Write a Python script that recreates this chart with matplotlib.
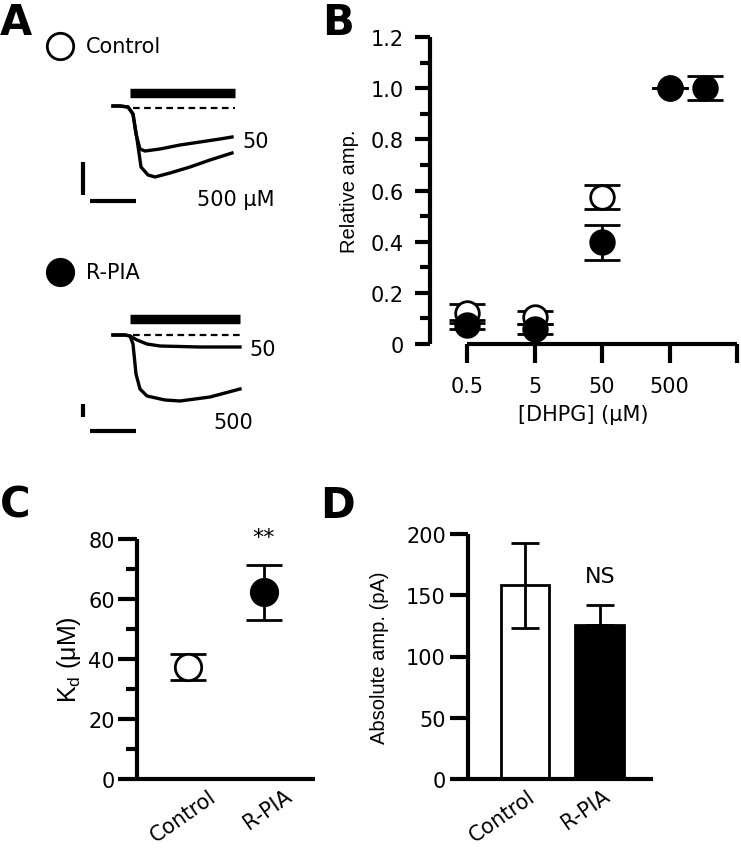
import matplotlib.pyplot as plt
import numpy as np
from matplotlib.transforms import ScaledTranslation

# ---- data ----
# panel A traces (schematic, pixel units)
tr_t_ctrl = [113, 120, 128, 133, 136, 140, 145, 160, 180, 200, 220, 232]
tr_ctrl_50 = [107, 107, 108, 115, 135, 150, 152, 150, 146, 143, 140, 138]
tr_t_ctrl5 = [113, 120, 128, 133, 137, 141, 148, 155, 170, 190, 210, 232]
tr_ctrl_500 = [107, 107, 108, 115, 140, 168, 176, 178, 174, 168, 161, 154]
tr_t_rpia = [113, 125, 130, 137, 147, 160, 200, 240]
tr_rpia_50 = [336, 336, 337, 341, 345, 347, 348, 348]
tr_t_rpia5 = [113, 125, 130, 133, 136, 140, 147, 165, 180, 210, 240]
tr_rpia_500 = [336, 336, 337, 345, 375, 390, 397, 401, 402, 398, 390]

# panel B
conc = [0.5, 5, 50, 500]
ctrl_rel = [0.12, 0.105, 0.575, 1.0]
ctrl_rel_err = [0.037, 0.025, 0.047, 0.0]
rpia_rel = [0.075, 0.06, 0.397, 1.0]
rpia_rel_err = [0.018, 0.02, 0.067, 0.0]
extra_conc = [1650]
extra_rel = [1.0]
extra_err = [0.046]
b_ticks = [0.5, 5, 50, 500]
b_ticklabels = ['0.5', '5', '50', '500']

# panel C
groups = ['Control', 'R-PIA']
kd = [37.3, 62.3]
kd_err = [4.3, 9.2]

# panel D
amp = [158, 126]
amp_err_lo = [34.5, 0]
amp_err_hi = [34.5, 16.3]

W, H = 741, 853
fig = plt.figure(figsize=(W / 100, H / 100), dpi=100)
plt.rcParams['font.size'] = 15
VFONT = 'Liberation Sans'


def px_axes(l, t, r, b):
    return fig.add_axes([l / W, 1 - b / H, (r - l) / W, (b - t) / H])


# ---------- panel A ----------
axA = px_axes(0, 0, 310, 445)
axA.set_xlim(0, 310)
axA.set_ylim(445, 0)
axA.axis('off')
for y0, face, lab in [(47, 'white', 'Control'), (273, 'black', 'R-PIA')]:
    axA.plot([60], [y0], 'o', ms=19, mfc=face, mec='black', mew=2)
    axA.text(86, y0, lab, va='center', ha='left', fontsize=15)
axA.plot([130, 235], [94, 94], color='black', lw=6.8, solid_capstyle='butt')
axA.plot([130, 240], [320, 320], color='black', lw=6.8, solid_capstyle='butt')
axA.plot([133, 235], [109, 109], color='black', lw=1.6, ls=(0, (3, 2)))
axA.plot([133, 240], [336, 336], color='black', lw=1.6, ls=(0, (3, 2)))
axA.plot(tr_t_ctrl, tr_ctrl_50, color='black', lw=2.4)
axA.plot(tr_t_ctrl5, tr_ctrl_500, color='black', lw=2.4)
axA.plot(tr_t_rpia, tr_rpia_50, color='black', lw=2.4)
axA.plot(tr_t_rpia5, tr_rpia_500, color='black', lw=2.4)
axA.text(256, 142, '50', ha='center', va='center', fontsize=15)
axA.text(236, 200, '500 μM', ha='center', va='center', fontsize=15)
axA.text(263, 350, '50', ha='center', va='center', fontsize=15)
axA.text(233, 423, '500', ha='center', va='center', fontsize=15)
# scale bars
axA.plot([83, 83], [163, 196], color='black', lw=3, solid_capstyle='butt')
axA.plot([90, 136], [202, 202], color='black', lw=3, solid_capstyle='butt')
axA.plot([83, 83], [405, 418], color='black', lw=3, solid_capstyle='butt')
axA.plot([90, 136], [432, 432], color='black', lw=3, solid_capstyle='butt')


def style_axes(ax):
    for s in ['top', 'right']:
        ax.spines[s].set_visible(False)
    for s in ['left', 'bottom']:
        ax.spines[s].set_linewidth(3)
        ax.spines[s].set_capstyle('butt')


# ---------- panel B ----------
axB = px_axes(430, 38, 737, 345)
style_axes(axB)
axB.set_xscale('log')
axB.set_xlim(10 ** (-0.301 - 37 / 67.3), 5000)
axB.set_ylim(0, 1.2)
axB.spines['bottom'].set_bounds(0.5, 5000)
axB.set_xticks(b_ticks + [5000])
axB.set_xticklabels(b_ticklabels + [''])
axB.xaxis.set_minor_locator(plt.NullLocator())
axB.set_yticks(np.arange(0, 1.21, 0.2))
axB.set_yticklabels(['0', '0.2', '0.4', '0.6', '0.8', '1.0', '1.2'])
axB.set_yticks(np.arange(0.1, 1.2, 0.2), minor=True)
axB.tick_params(axis='y', which='major', length=11, width=3, pad=8, labelsize=15)
axB.tick_params(axis='y', which='minor', length=7, width=3)
axB.tick_params(axis='x', which='major', length=14, width=3, pad=9, labelsize=15)
eb = dict(fmt='o', ms=17, ecolor='black', elinewidth=2, capsize=13, capthick=2,
          mec='black', mew=2, clip_on=False, zorder=3)
axB.errorbar(conc, ctrl_rel, yerr=ctrl_rel_err, mfc='white', **eb)
axB.errorbar(conc, rpia_rel, yerr=rpia_rel_err, mfc='black', **eb)
axB.errorbar(extra_conc, extra_rel, yerr=extra_err, mfc='black', **eb)
axB.set_xlabel('[DHPG] (μM)', fontsize=15, labelpad=6)
axB.set_ylabel('Relative amp.', fontsize=14.5, family=VFONT, labelpad=8)

# ---------- panel C ----------
axC = px_axes(137, 540, 315, 780)
style_axes(axC)
axC.set_xlim(-0.671, 1.671)
axC.set_ylim(0, 80)
axC.set_yticks([0, 20, 40, 60, 80])
axC.set_yticks([10, 30, 50, 70], minor=True)
axC.tick_params(axis='y', which='major', length=14, width=3, pad=2, labelsize=15)
axC.tick_params(axis='y', which='minor', length=8, width=3)
axC.set_xticks([0, 1])
axC.set_xticklabels(groups, rotation=35, ha='right', rotation_mode='anchor')
axC.tick_params(axis='x', length=0, pad=4.5, labelsize=15)
for lab in axC.get_xticklabels():
    lab.set_transform(lab.get_transform() + ScaledTranslation(0.2, 0, fig.dpi_scale_trans))
ebc = dict(fmt='o', ms=19, ecolor='black', elinewidth=2, capsize=13, capthick=2,
           mec='black', mew=2, clip_on=False, zorder=3)
axC.errorbar([0], [kd[0]], yerr=[kd_err[0]], mfc='white', **ebc)
axC.errorbar([1], [kd[1]], yerr=[kd_err[1]], mfc='black', **ebc)
axC.text(1, 80.5, '**', ha='center', va='center', fontsize=16, clip_on=False)
axC.set_ylabel('K$_\\mathregular{d}$ (μM)', fontsize=18, family=VFONT, labelpad=4)

# ---------- panel D ----------
axD = px_axes(468, 535, 653, 780)
style_axes(axD)
axD.set_xlim(-0.76, 1.71)
axD.set_ylim(0, 200)
axD.set_yticks([0, 50, 100, 150, 200])
axD.tick_params(axis='y', length=13, width=3, pad=3, labelsize=15)
axD.bar([0, 1], amp, width=0.65, color=['white', 'black'], edgecolor='black',
        linewidth=2, zorder=2)
axD.errorbar([0, 1], amp, yerr=[amp_err_lo, amp_err_hi], fmt='none', ecolor='black',
             elinewidth=2, capsize=10, capthick=2, zorder=3)
axD.set_xticks([0, 1])
axD.set_xticklabels(groups, rotation=35, ha='right', rotation_mode='anchor')
axD.tick_params(axis='x', length=0, pad=4.5, labelsize=15)
for lab in axD.get_xticklabels():
    lab.set_transform(lab.get_transform() + ScaledTranslation(0.02, 0, fig.dpi_scale_trans))
axD.text(1, 166, 'NS', ha='center', va='center', fontsize=16)
axD.set_ylabel('Absolute amp. (pA)', fontsize=14.5, family=VFONT, labelpad=12)

# panel letters
for x, y, s in [(0, 2, 'A'), (322, 2, 'B'), (0, 485, 'C'), (320, 485, 'D')]:
    fig.text(x / W, 1 - y / H, s, ha='left', va='top', fontsize=30, fontweight='bold')

fig.savefig('out.png', dpi=100)
